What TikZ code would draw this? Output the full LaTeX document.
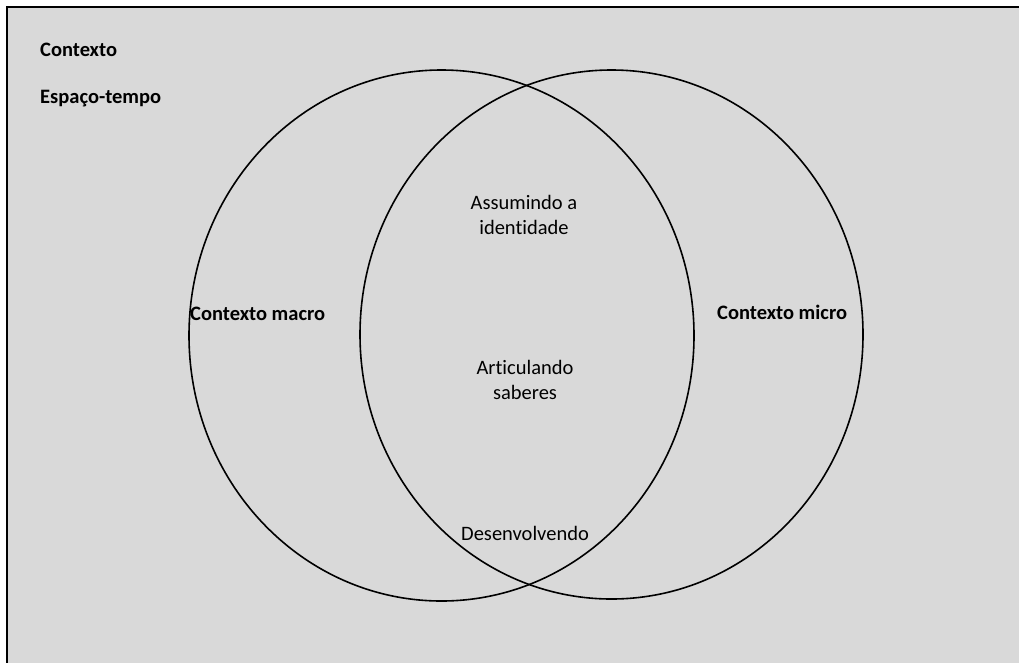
\documentclass[tikz,border=0pt]{standalone}
\usepackage{fontspec}
\setmainfont[Ligatures=NoCommon]{Carlito}
\usetikzlibrary{shapes.geometric}
\tikzset{
  lbl/.style={inner sep=0pt, font=\fontsize{20.5}{25.5}\selectfont, align=center},
  blbl/.style={lbl, font=\fontsize{20.5}{25.5}\selectfont\bfseries},
  circ/.style={draw=black, line width=1.6pt}
}
\begin{document}
\begin{tikzpicture}[x=1pt,y=-1pt]
\useasboundingbox (0,0) rectangle (1019,662);
\fill[white] (0,0) rectangle (1019,662);
\draw[fill={rgb,255:red,217;green,217;blue,217}, line width=1.6pt] (7,7) rectangle (1025,670);
\node[circ, ellipse, minimum width=505pt, minimum height=531pt, inner sep=0pt] (macro) at (441.5,335.5) {};
\node[circ, ellipse, minimum width=503pt, minimum height=529pt, inner sep=0pt] (micro) at (611.5,334.5) {};
\node[blbl, anchor=west] (ctx) at (40,50) {Contexto};
\node[blbl, anchor=west] (esp) at (40,99) {Espaço-tempo};
\node[blbl, anchor=west] (cmacro) at (190,314) {Contexto macro};
\node[blbl, anchor=west] (cmicro) at (717,312) {Contexto micro};
\node[lbl] (assum) at (524,215) {Assumindo a\\identidade};
\node[lbl] (artic) at (525,380) {Articulando\\saberes};
\node[lbl] (desen) at (525,533) {Desenvolvendo};
\end{tikzpicture}
\end{document}
